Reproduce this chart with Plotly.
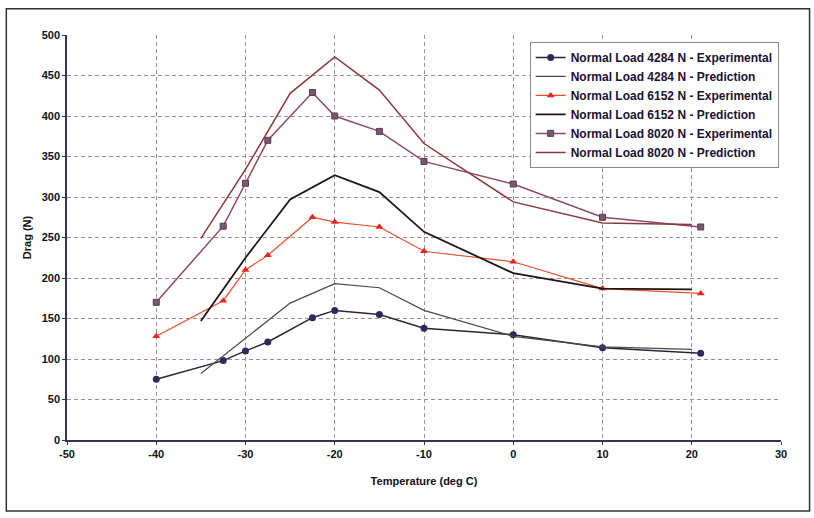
import plotly.graph_objects as go

# Experimental temperatures
exp_temp = [-40, -32.5, -30, -27.5, -22.5, -20, -15, -10, 0, 10, 21]
exp_4284 = [75, 98, 110, 121, 151, 160, 155, 138, 130, 114, 107]
exp_6152 = [128, 172, 210, 228, 275, 269, 263, 233, 220, 187, 181]
exp_8020 = [170, 264, 317, 370, 429, 400, 381, 344, 316, 275, 263]

# Prediction temperatures
pred_temp = [-35, -30, -25, -20, -15, -10, 0, 10, 20]
pred_4284 = [82, 126, 169, 193, 188, 160, 128, 115, 112]
pred_6152 = [147, 225, 297, 327, 306, 257, 206, 187, 186]
pred_8020 = [249, 334, 428, 473, 432, 366, 294, 268, 266]

x_ticks = [-50, -40, -30, -20, -10, 0, 10, 20, 30]
y_ticks = [0, 50, 100, 150, 200, 250, 300, 350, 400, 450, 500]

FONT = "Liberation Sans, Arial"

fig = go.Figure()
fig.add_trace(go.Scatter(x=exp_temp, y=exp_4284, mode="lines+markers",
                         name="<b>Normal Load 4284 N - Experimental</b>",
                         line=dict(color="#2a2438", width=1.5),
                         marker=dict(symbol="circle", size=7, color="#2a2a5c")))
fig.add_trace(go.Scatter(x=pred_temp, y=pred_4284, mode="lines",
                         name="<b>Normal Load 4284 N - Prediction</b>",
                         line=dict(color="#4a4a44", width=1.2)))
fig.add_trace(go.Scatter(x=exp_temp, y=exp_6152, mode="lines+markers",
                         name="<b>Normal Load 6152 N - Experimental</b>",
                         line=dict(color="#e8502a", width=1.2),
                         marker=dict(symbol="triangle-up", size=7, color="#f02020")))
fig.add_trace(go.Scatter(x=pred_temp, y=pred_6152, mode="lines",
                         name="<b>Normal Load 6152 N - Prediction</b>",
                         line=dict(color="#201414", width=1.8)))
fig.add_trace(go.Scatter(x=exp_temp, y=exp_8020, mode="lines+markers",
                         name="<b>Normal Load 8020 N - Experimental</b>",
                         line=dict(color="#8a4a6a", width=1.5),
                         marker=dict(symbol="square", size=6, color="#7a5a6a",
                                     line=dict(color="#5a3a5a", width=1))))
fig.add_trace(go.Scatter(x=pred_temp, y=pred_8020, mode="lines",
                         name="<b>Normal Load 8020 N - Prediction</b>",
                         line=dict(color="#8a3a3a", width=1.5)))

grid = dict(showgrid=True, gridcolor="#a88a8a", griddash="4px,3px", gridwidth=1)

fig.update_xaxes(range=[-50, 30], tickvals=x_ticks, ticktext=[f"<b>{v}</b>" for v in x_ticks],
                 showline=True, linecolor="#3a3050", linewidth=1.5,
                 ticks="outside", ticklen=3, tickcolor="#3a3050",
                 tickfont=dict(family=FONT, size=11, color="#111"),
                 title=dict(text="<b>Temperature (deg C)</b>", font=dict(family=FONT, size=11, color="#111"),
                            standoff=18),
                 zeroline=False, **grid)
fig.update_yaxes(range=[0, 500], tickvals=y_ticks, ticktext=[f"<b>{v}</b>" for v in y_ticks],
                 showline=True, linecolor="#3a3050", linewidth=1.5,
                 ticks="outside", ticklen=3, tickcolor="#3a3050",
                 tickfont=dict(family=FONT, size=11, color="#111"),
                 title=dict(text="<b>Drag (N)</b>", font=dict(family=FONT, size=11, color="#111"),
                            standoff=8),
                 zeroline=False, **grid)

fig.update_layout(
    width=814, height=518,
    margin=dict(l=67, r=33, t=35, b=78),
    paper_bgcolor="white", plot_bgcolor="white",
    font=dict(family=FONT, size=11, color="#111"),
    legend=dict(x=0.648, y=0.983, xanchor="left", yanchor="top",
                bgcolor="white", bordercolor="#888", borderwidth=1,
                font=dict(family=FONT, size=12, color="#201030"),
                tracegroupgap=0, itemwidth=30),
    shapes=[dict(type="rect", xref="paper", yref="paper",
                 x0=-0.085, x1=1.04, y0=-0.175, y1=1.065,
                 line=dict(color="#333", width=1.5))],
)

fig.write_html("out.html")
